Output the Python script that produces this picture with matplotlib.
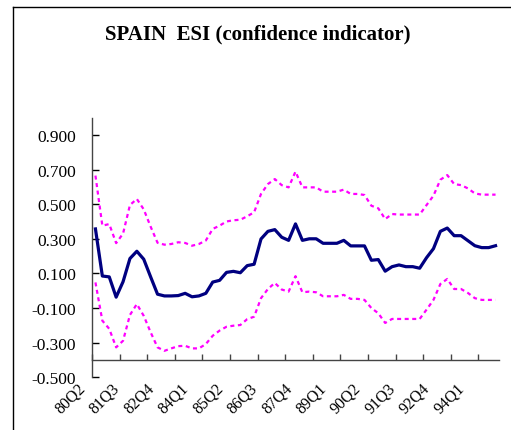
import matplotlib
matplotlib.use("Agg")
import matplotlib.pyplot as plt
from matplotlib.lines import Line2D
from matplotlib.transforms import ScaledTranslation

# ---- data -------------------------------------------------------------
quarters = [f"{y % 100:02d}Q{q}" for y in range(1980, 1995) for q in (1, 2, 3, 4)][1:]  # 80Q2 .. 94Q4

esi = [0.357, 0.085, 0.08, -0.037, 0.052, 0.186, 0.228, 0.182, 0.08, -0.02,
       -0.03, -0.03, -0.028, -0.015, -0.035, -0.03, -0.015, 0.05, 0.06, 0.106,
       0.112, 0.104, 0.145, 0.153, 0.299, 0.343, 0.353, 0.309, 0.291, 0.386,
       0.291, 0.30, 0.30, 0.274, 0.274, 0.274, 0.291, 0.259, 0.259, 0.259,
       0.176, 0.18, 0.113, 0.139, 0.149, 0.139, 0.139, 0.13, 0.191, 0.243,
       0.343, 0.362, 0.318, 0.318, 0.289, 0.26, 0.249, 0.249, 0.26]

upper = [0.665, 0.376, 0.385, 0.275, 0.33, 0.495, 0.53, 0.47, 0.37, 0.277,
         0.266, 0.27, 0.28, 0.276, 0.26, 0.27, 0.29, 0.357, 0.376, 0.40,
         0.407, 0.41, 0.43, 0.453, 0.559, 0.616, 0.645, 0.61, 0.597, 0.688,
         0.597, 0.597, 0.597, 0.572, 0.572, 0.572, 0.584, 0.559, 0.559, 0.553,
         0.491, 0.476, 0.414, 0.443, 0.44, 0.44, 0.44, 0.44, 0.495, 0.549,
         0.641, 0.668, 0.616, 0.61, 0.591, 0.562, 0.555, 0.555, 0.555]

lower = [0.048, -0.173, -0.22, -0.327, -0.289, -0.14, -0.077, -0.145, -0.24, -0.327,
         -0.347, -0.333, -0.32, -0.318, -0.333, -0.333, -0.308, -0.26, -0.23, -0.208,
         -0.202, -0.198, -0.164, -0.150, -0.043, 0.01, 0.045, 0.007, -0.005, 0.084,
         -0.009, -0.005, -0.009, -0.032, -0.032, -0.032, -0.024, -0.047, -0.047, -0.053,
         -0.1, -0.13, -0.186, -0.163, -0.163, -0.163, -0.163, -0.163, -0.109, -0.053,
         0.039, 0.068, 0.01, 0.01, -0.013, -0.043, -0.053, -0.053, -0.053]

label_quarters = ["80Q2", "81Q3", "82Q4", "84Q1", "85Q2", "86Q3",
                  "87Q4", "89Q1", "90Q2", "91Q3", "92Q4", "94Q1"]
y_ticks = [-0.5, -0.3, -0.1, 0.1, 0.3, 0.5, 0.7, 0.9]
y_tick_labels = ["-0.500", "-0.300", "-0.100", "0.100", "0.300", "0.500", "0.700", "0.900"]
title = "SPAIN  ESI (confidence indicator)"

# ---- figure -----------------------------------------------------------
W, H, DPI = 511, 431, 100
fig = plt.figure(figsize=(W / DPI, H / DPI), dpi=DPI)
fig.patch.set_facecolor("white")

ax = fig.add_axes([92 / W, (H - 378.3) / H, 407 / W, (378.3 - 118.6) / H])
x = list(range(len(quarters)))

ax.plot(x, upper, color="#FF00FF", lw=1.6, linestyle=(0, (1.8, 1.6)), solid_capstyle="butt")
ax.plot(x, lower, color="#FF00FF", lw=1.6, linestyle=(0, (1.8, 1.6)), solid_capstyle="butt")
ax.plot(x, esi, color="#000080", lw=2.3, solid_joinstyle="round")

ax.set_xlim(-0.5, len(quarters) - 0.5)
ax.set_ylim(-0.5, 1.0)

# spines
for s in ("top", "right"):
    ax.spines[s].set_visible(False)
ax.spines["left"].set_color("#444444")
ax.spines["bottom"].set_color("#444444")
ax.spines["left"].set_linewidth(1.0)
ax.spines["bottom"].set_linewidth(1.0)
ax.spines["bottom"].set_position(("data", -0.4))

serif = ["Liberation Serif", "DejaVu Serif"]

# y ticks
ax.set_yticks(y_ticks)
ax.set_yticklabels(y_tick_labels, fontfamily=serif, fontsize=12.5)
ax.tick_params(axis="y", direction="in", length=5, width=1, color="black", pad=11.5)

# x ticks: marks every 4 quarters (between categories), labels every 5 quarters
major_pos = [i - 0.5 for i in range(0, len(quarters) + 1, 4)]
ax.set_xticks(major_pos)
ax.set_xticklabels([])
ax.tick_params(axis="x", which="major", direction="in", length=4, width=1, color="#444444")
label_pos = [quarters.index(q) for q in label_quarters]
ax.set_xticks(label_pos, minor=True)
ax.set_xticklabels(label_quarters, minor=True, fontfamily=serif, fontsize=11.5,
                   rotation=45, ha="right", va="center", rotation_mode="anchor")
ax.tick_params(axis="x", which="minor", length=0, pad=18)
offset = ScaledTranslation(-13 / DPI, 0, fig.dpi_scale_trans)
for lab in ax.get_xticklabels(minor=True):
    lab.set_transform(lab.get_transform() + offset)

# title
fig.text(258 / W, 1 - 34 / H, title, ha="center", va="center",
         fontfamily=serif, fontweight="bold", fontsize=15)

# frame lines (left and top)
fig.add_artist(Line2D([12.5 / W, 12.5 / W], [0, 1 - 8 / H], color="black", lw=1.0,
                      transform=fig.transFigure))
fig.add_artist(Line2D([12.5 / W, 1], [1 - 8 / H, 1 - 8 / H], color="black", lw=1.0,
                      transform=fig.transFigure))

fig.savefig("out.png", dpi=DPI)
